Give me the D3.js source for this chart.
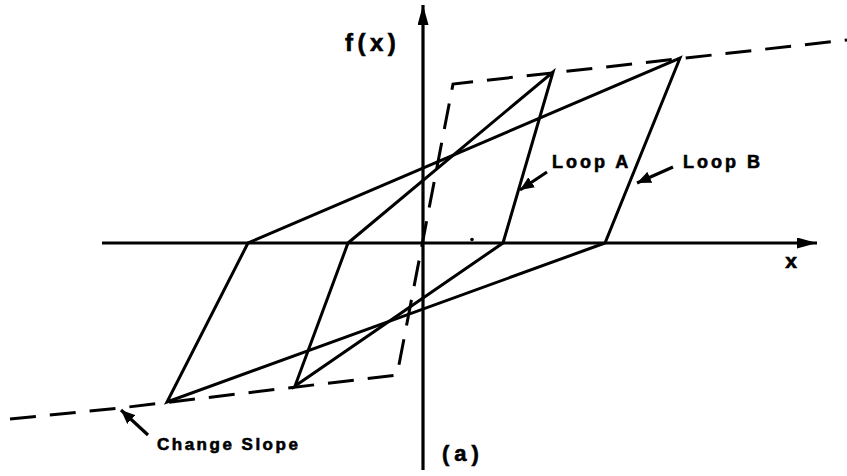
<!DOCTYPE html>
<html>
<head>
<meta charset="utf-8">
<script src="https://cdn.jsdelivr.net/npm/d3@7"></script>
<style>
  html, body { margin: 0; padding: 0; background: #fff; }
  svg { display: block; }
  text { font-family: "Liberation Sans", Arial, Helvetica, sans-serif; font-weight: bold; fill: #000; stroke: #000; stroke-width: 0.6px; }
</style>
</head>
<body>
<svg id="chart" width="847" height="476"></svg>
<script>
// Loop vertices: top corner, descending-branch axis crossing, bottom corner, ascending-branch axis crossing
const loopA = [[13.0, 17.1], [8.0, 0], [-12.8, -14.3], [-7.5, 0]];
const loopB = [[25.7, 18.5], [18.2, 0], [-25.6, -15.9], [-17.5, 0]];
// Limiting (saturation) boundary, drawn dashed
const boundary = [[-41.3, -17.6], [-30.3, -16.5], [-2.6, -13.2], [3.0, 15.9], [42.4, 20.3]];
// Axis extents
const xAxisRange = [-32.1, 39.4];
const yAxisRange = [-22.7, 23.8];
// Text labels
const labels = ["Loop A", "Loop B", "Change Slope", "f(x)", "x", "(a)"];

const W = 847, H = 476;
const svg = d3.select("#chart");
const x = d3.scaleLinear().domain([-42.3, 42.4]).range([0, W]);
const y = d3.scaleLinear().domain([24.3, -23.3]).range([0, H]);

const defs = svg.append("defs");
function marker(id, len, half) {
  defs.append("marker")
    .attr("id", id)
    .attr("viewBox", `0 ${-half} ${len} ${2 * half}`)
    .attr("refX", len).attr("refY", 0)
    .attr("markerWidth", len).attr("markerHeight", 2 * half)
    .attr("markerUnits", "userSpaceOnUse")
    .attr("orient", "auto")
    .append("path")
    .attr("d", `M0,${-half}L${len},0L0,${half}Z`)
    .attr("fill", "#000");
}
marker("axisHead", 20, 5.5);
marker("noteHead", 14, 6);

const line = d3.line().x(d => x(d[0])).y(d => y(d[1]));

// Axes
svg.append("line")
  .attr("x1", x(xAxisRange[0])).attr("y1", y(0))
  .attr("x2", x(xAxisRange[1])).attr("y2", y(0))
  .attr("stroke", "#000").attr("stroke-width", 3)
  .attr("marker-end", "url(#axisHead)");
svg.append("line")
  .attr("x1", x(0)).attr("y1", y(yAxisRange[0]))
  .attr("x2", x(0)).attr("y2", y(yAxisRange[1]))
  .attr("stroke", "#000").attr("stroke-width", 3.2)
  .attr("marker-end", "url(#axisHead)");

// Dashed boundary
svg.append("path")
  .attr("d", line(boundary))
  .attr("fill", "none").attr("stroke", "#000")
  .attr("stroke-width", 3).attr("stroke-dasharray", "26,14")
  .attr("stroke-linejoin", "miter");

// Loops
[loopA, loopB].forEach(loop => {
  svg.append("path")
    .attr("d", line(loop) + "Z")
    .attr("fill", "none").attr("stroke", "#000")
    .attr("stroke-width", 3).attr("stroke-linejoin", "miter");
});

// Annotation arrows
const notes = [
  { from: [12.4, 7.1], to: [9.7, 5.3] },
  { from: [25.0, 7.6], to: [21.4, 6.0] },
  { from: [-27.5, -19.2], to: [-30.2, -16.7] }
];
notes.forEach(n => {
  svg.append("line")
    .attr("x1", x(n.from[0])).attr("y1", y(n.from[1]))
    .attr("x2", x(n.to[0])).attr("y2", y(n.to[1]))
    .attr("stroke", "#000").attr("stroke-width", 3.2)
    .attr("marker-end", "url(#noteHead)");
});

// Small mark on the x axis
svg.append("circle").attr("cx", x(4.9)).attr("cy", y(0.35)).attr("r", 1.8).attr("fill", "#000");

// Labels
const textPos = [
  { at: [12.9, 7.5], size: 18, ls: 3, anchor: "start" },
  { at: [26.0, 7.5], size: 18, ls: 3, anchor: "start" },
  { at: [-26.6, -20.7], size: 17, ls: 2.5, anchor: "start" },
  { at: [-7.8, 19.2], size: 24, ls: 4.5, anchor: "start" },
  { at: [36.8, -2.5], size: 21, ls: 0, anchor: "middle" },
  { at: [1.9, -21.8], size: 22, ls: 5, anchor: "start" }
];
labels.forEach((t, i) => {
  const p = textPos[i];
  svg.append("text")
    .attr("x", x(p.at[0])).attr("y", y(p.at[1]))
    .attr("font-size", p.size)
    .attr("letter-spacing", p.ls)
    .attr("text-anchor", p.anchor)
    .text(t);
});
</script>
</body>
</html>
